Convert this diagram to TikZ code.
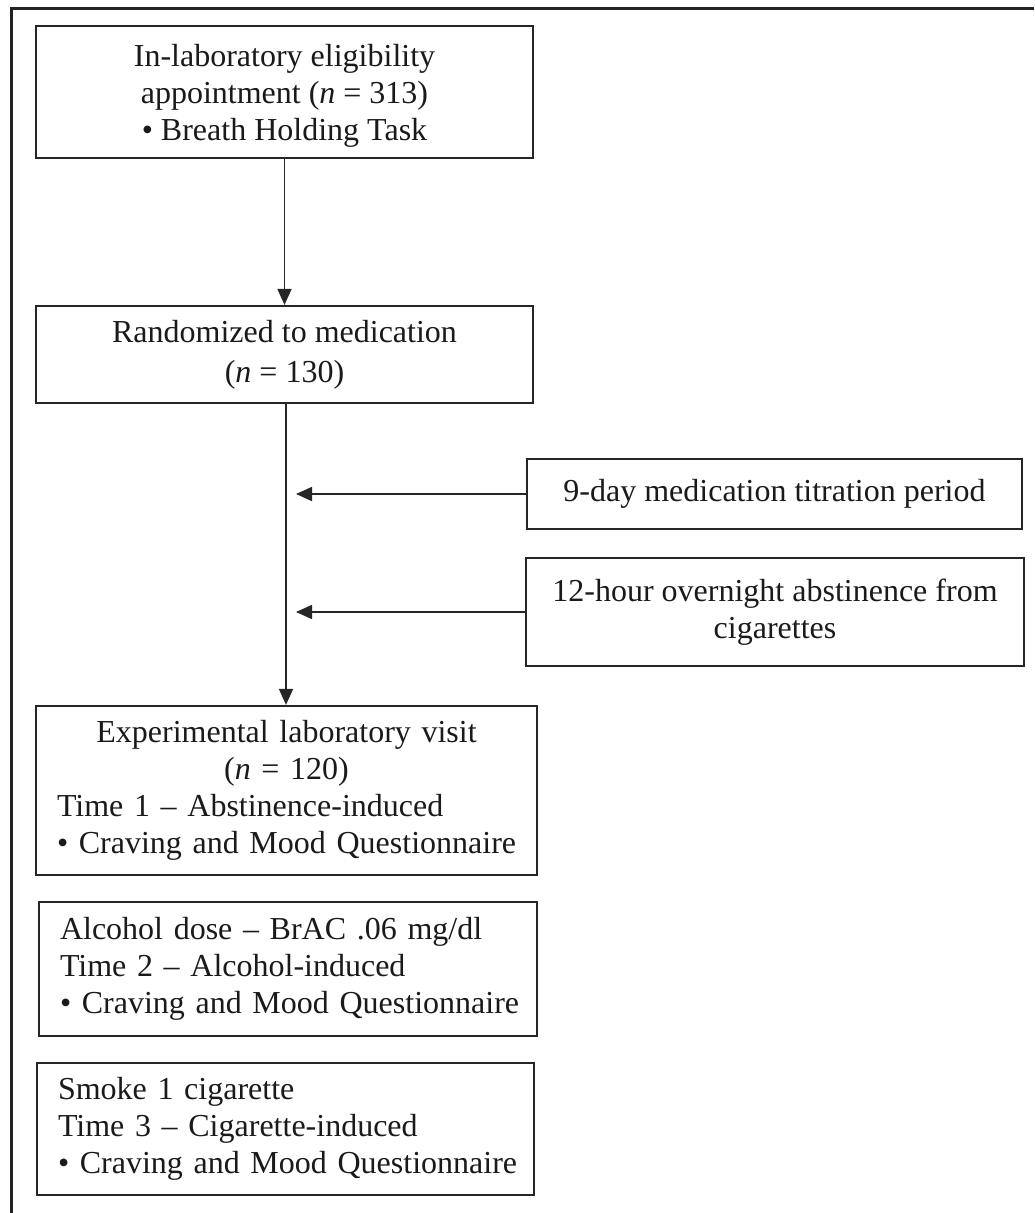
\documentclass[tikz,border=0pt]{standalone}
\usepackage{fontspec}
\setmainfont{Liberation Serif}
\usetikzlibrary{arrows.meta}
\definecolor{linec}{HTML}{262626}
\definecolor{textc}{HTML}{1A1A1A}
\definecolor{framec}{HTML}{222222}
\begin{document}
\begin{tikzpicture}[x=1pt,y=-1pt,
  box/.style={draw=linec, line width=2.2pt, inner sep=0pt, font=\fontsize{32}{37}\selectfont, text=textc, align=center},
  lbox/.style={draw=linec, line width=2.2pt, inner ysep=0pt, inner xsep=21pt, font=\fontsize{32}{37}\selectfont, text=textc, align=left},
  arr/.style={draw=linec, line width=1.6pt, -{Triangle[length=16pt,width=14pt]}}]
\useasboundingbox (0,0) rectangle (1034,1213);
\fill[white] (0,0) rectangle (1034,1213);
% outer frame (top and left only)
\draw[line width=3pt, draw=framec] (11,1213) -- (11,8.5) -- (1034,8.5);

\node[box, minimum width=497pt, minimum height=132pt] (b1) at (284.5,92)
  {\rule{0pt}{30pt}In-laboratory eligibility\\appointment (\textit{n} = 313)\\• Breath Holding Task};
\node[box, minimum width=497pt, minimum height=97pt] (b2) at (284.5,354.5)
  {Randomized to medication\\[3pt](\textit{n} = 130)};
\node[box, minimum width=495pt, minimum height=70pt] (r1) at (774.5,494)
  {9-day medication titration period};
\node[box, minimum width=498pt, minimum height=108pt] (r2) at (775,612)
  {12-hour overnight abstinence from\\cigarettes};
\node[lbox, text width=459pt, minimum height=169pt] (b3) at (286.5,790.5)
  {\makebox[459pt][c]{Experimental laboratory visit}\\\makebox[459pt][c]{(\textit{n} = 120)}\\\mbox{Time 1 – Abstinence-induced}\\\mbox{• Craving and Mood Questionnaire}};
\node[lbox, text width=456pt, minimum height=134pt] (b4) at (288,969)
  {\mbox{Alcohol dose – BrAC .06 mg/dl}\\\mbox{Time 2 – Alcohol-induced}\\\mbox{• Craving and Mood Questionnaire}};
\node[lbox, text width=455pt, minimum height=132pt] (b5) at (285.5,1129)
  {\mbox{Smoke 1 cigarette}\\\mbox{Time 3 – Cigarette-induced}\\\mbox{• Craving and Mood Questionnaire}};

\coordinate (t1) at (296,494);
\coordinate (t2) at (296,612);

\draw[arr] (b1.south) -- (b2.north);
\draw[arr] (b2.south) ++(1.5,0) coordinate (s2) -- (s2 |- b3.north);
\draw[arr] (r1.west) -- (t1);
\draw[arr] (r2.west) -- (t2);
\end{tikzpicture}
\end{document}
